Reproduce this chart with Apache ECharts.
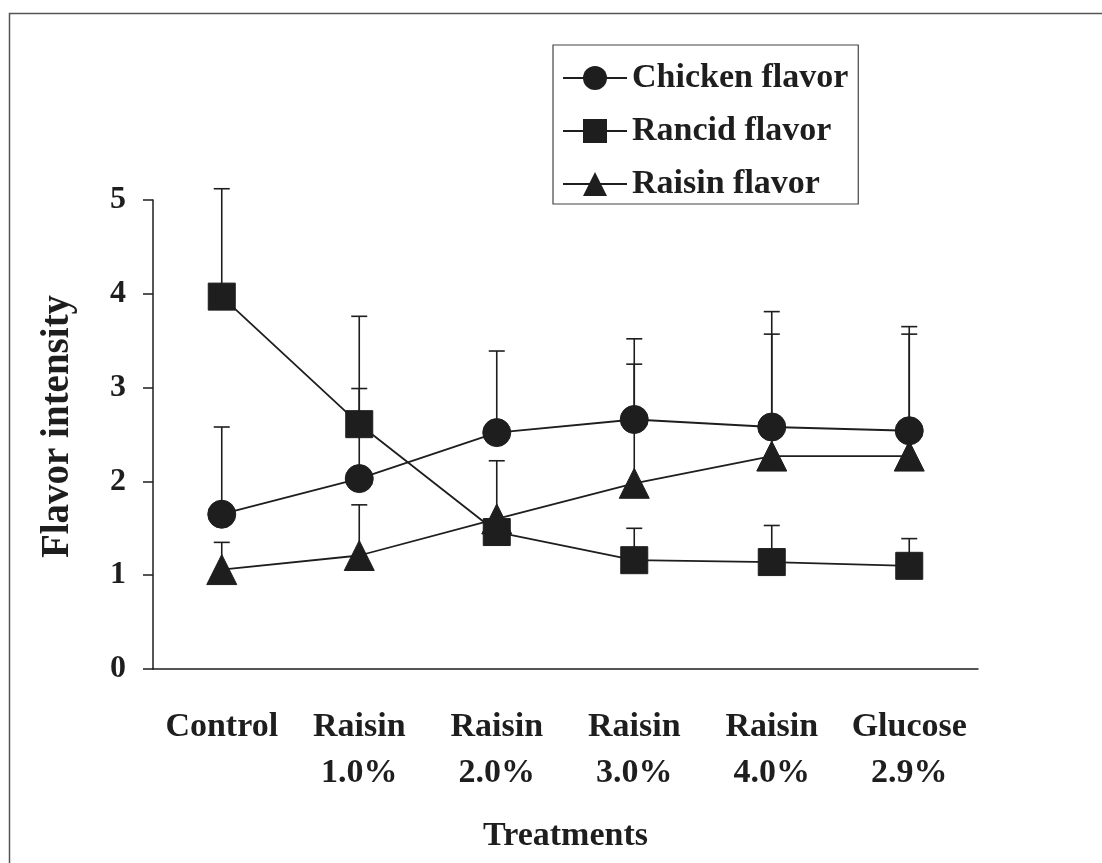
<!DOCTYPE html>
<html>
<head>
<meta charset="utf-8">
<script src="https://cdn.jsdelivr.net/npm/echarts@6/dist/echarts.min.js"></script>
<style>
  html, body { margin: 0; padding: 0; background: #fff; }
  #chart { width: 1102px; height: 863px; }
</style>
</head>
<body>
<div id="chart"></div>
<script>
// Treatments on the category axis (two-line labels)
const treatments = ['Control', 'Raisin\n1.0%', 'Raisin\n2.0%', 'Raisin\n3.0%', 'Raisin\n4.0%', 'Glucose\n2.9%'];
const yTicks = [0, 1, 2, 3, 4, 5];

// Mean flavor intensity per treatment
const chickenMean = [1.65, 2.03, 2.52, 2.66, 2.58, 2.54];
const rancidMean  = [3.97, 2.61, 1.46, 1.16, 1.14, 1.10];
const raisinMean  = [1.06, 1.21, 1.60, 1.98, 2.27, 2.27];

// Standard deviations (upper bars only); null = no bar drawn
const chickenSd = [0.93, 0.96, 0.87, 0.86, 1.23, 1.11];
const rancidSd  = [1.15, 1.15, null, 0.34, 0.39, 0.29];
const raisinSd  = [0.29, 0.54, 0.62, 1.27, 1.30, 1.30];

const FONT = '"Liberation Serif", "Times New Roman", serif';
const INK = '#1e1e1e';

function errorData(mean, sd) {
  const out = [];
  mean.forEach((m, i) => {
    if (sd[i] != null) out.push([i, m, +(m + sd[i]).toFixed(3)]);
  });
  return out;
}

function renderErrorBar(params, api) {
  const x = api.value(0);
  const base = api.coord([x, api.value(1)]);
  const top = api.coord([x, api.value(2)]);
  const half = 8;
  const style = { stroke: INK, lineWidth: 1.6 };
  return {
    type: 'group',
    children: [
      { type: 'line', shape: { x1: base[0], y1: base[1], x2: top[0], y2: top[1] }, style },
      { type: 'line', shape: { x1: top[0] - half, y1: top[1], x2: top[0] + half, y2: top[1] }, style }
    ]
  };
}

function errorSeries(name, mean, sd) {
  return {
    name: name,
    type: 'custom',
    z: 1,
    silent: true,
    renderItem: renderErrorBar,
    encode: { x: 0, y: [1, 2] },
    data: errorData(mean, sd)
  };
}

function lineSeries(name, data, symbol, size) {
  return {
    name: name,
    type: 'line',
    z: 3,
    data: data,
    symbol: symbol,
    symbolSize: size,
    showAllSymbol: true,
    lineStyle: { color: INK, width: 1.8 },
    itemStyle: { color: INK, borderColor: INK },
    emphasis: { disabled: true }
  };
}

const chart = echarts.init(document.getElementById('chart'), null, { renderer: 'canvas' });

chart.setOption({
  backgroundColor: '#ffffff',
  animation: false,
  textStyle: { fontFamily: FONT, color: INK },
  graphic: [
    {
      type: 'rect',
      left: 7, top: 11,
      shape: { x: 0, y: 0, width: 1120, height: 900 },
      style: { fill: 'none', stroke: '#555', lineWidth: 1.5 },
      silent: true
    }
  ],
  legend: {
    data: ['Chicken flavor', 'Rancid flavor', 'Raisin flavor'],
    orient: 'vertical',
    left: 553,
    top: 45,
    padding: [16, 10, 3, 9],
    itemGap: 19,
    itemWidth: 64,
    itemHeight: 30,
    borderColor: '#444',
    borderWidth: 1.2,
    textStyle: { fontFamily: FONT, fontWeight: 'bold', fontSize: 34, color: INK },
    selectedMode: false
  },
  grid: { left: 153, right: 124, top: 200, bottom: 194, containLabel: false },
  xAxis: {
    type: 'category',
    data: treatments,
    boundaryGap: true,
    name: 'Treatments',
    nameLocation: 'middle',
    nameGap: 150,
    nameTextStyle: { fontFamily: FONT, fontWeight: 'bold', fontSize: 34, color: INK },
    axisLine: { lineStyle: { color: INK, width: 1.5 } },
    axisTick: { show: false },
    axisLabel: {
      interval: 0,
      margin: 35,
      fontFamily: FONT, fontWeight: 'bold', fontSize: 34, color: INK,
      lineHeight: 46, align: 'center'
    },
    splitLine: { show: false }
  },
  yAxis: {
    type: 'value',
    min: yTicks[0],
    max: yTicks[yTicks.length - 1],
    interval: 1,
    name: 'Flavor intensity',
    nameLocation: 'middle',
    nameRotate: 90,
    nameGap: 76,
    nameTextStyle: { fontFamily: FONT, fontWeight: 'bold', fontSize: 39, color: INK, padding: [0, 0, 0, 16] },
    axisLine: { show: true, lineStyle: { color: INK, width: 1.5 } },
    axisTick: { show: true, inside: false, length: 10, lineStyle: { color: INK, width: 1.5 } },
    axisLabel: { margin: 27, fontFamily: FONT, fontWeight: 'bold', fontSize: 32, color: INK },
    splitLine: { show: false }
  },
  series: [
    errorSeries('Chicken flavor SD', chickenMean, chickenSd),
    errorSeries('Rancid flavor SD', rancidMean, rancidSd),
    errorSeries('Raisin flavor SD', raisinMean, raisinSd),
    lineSeries('Chicken flavor', chickenMean, 'circle', 28),
    lineSeries('Rancid flavor', rancidMean, 'rect', 27),
    lineSeries('Raisin flavor', raisinMean, 'triangle', 30)
  ]
});
</script>
</body>
</html>
